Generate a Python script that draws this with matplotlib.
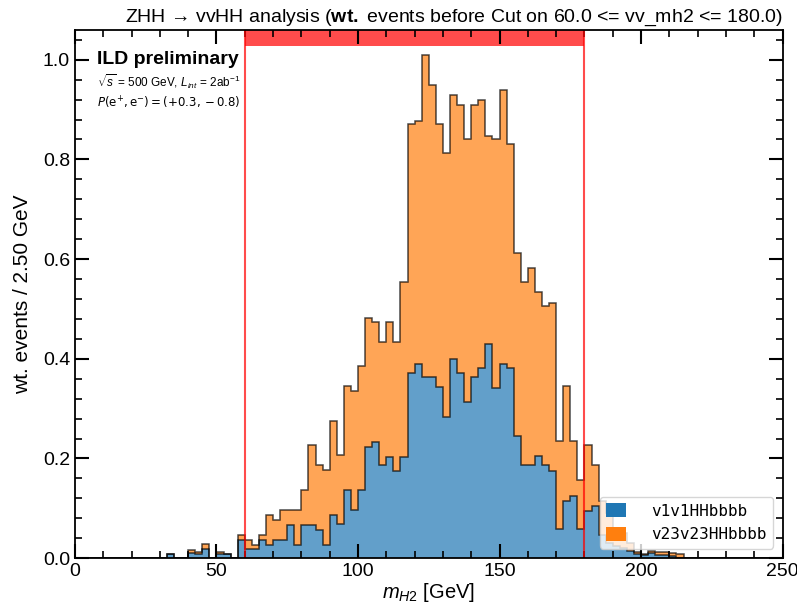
import numpy as np
import matplotlib
matplotlib.use('Agg')
import matplotlib.pyplot as plt
from matplotlib.patches import Patch
from matplotlib.ticker import MultipleLocator

plt.rcParams['font.family'] = ['Liberation Sans', 'DejaVu Sans']
plt.rcParams['mathtext.fontset'] = 'custom'
plt.rcParams['mathtext.rm'] = 'Liberation Sans'
plt.rcParams['mathtext.it'] = 'Liberation Sans:italic'
plt.rcParams['mathtext.bf'] = 'Liberation Sans:bold'

# histogram binning: 100 bins of 2.5 GeV between 0 and 250
bin_width = 2.5
x_min, x_max = 0.0, 250.0
cut_low, cut_high = 60.0, 180.0

labels = ['v1v1HHbbbb', 'v23v23HHbbbb']

# bin contents of the first (bottom) sample
v1v1 = [
    0, 0, 0, 0, 0, 0, 0, 0, 0, 0,
    0, 0, 0, 0.009, 0, 0, 0.011, 0.009, 0.018, 0,
    0.008, 0.008, 0, 0.037, 0.018, 0.018, 0.037, 0.027, 0.037, 0.037,
    0.067, 0.027, 0.067, 0.067, 0.057, 0.027, 0.087, 0.068, 0.136, 0.097,
    0.136, 0.223, 0.234, 0.186, 0.203, 0.175, 0.203, 0.372, 0.390, 0.363,
    0.363, 0.343, 0.283, 0.400, 0.371, 0.313, 0.363, 0.381, 0.430, 0.342,
    0.390, 0.381, 0.245, 0.186, 0.186, 0.204, 0.186, 0.174, 0.059, 0.115,
    0.124, 0.059, 0.095, 0.105, 0.047, 0.030, 0.025, 0.020, 0.015, 0.008,
    0.006, 0.010, 0.006, 0.006, 0.005, 0, 0, 0, 0, 0,
    0, 0, 0, 0, 0, 0, 0, 0, 0, 0,
]

# stacked total (top of the orange sample)
stack_total = [
    0, 0, 0, 0, 0, 0, 0, 0, 0, 0,
    0, 0, 0, 0.009, 0, 0, 0.017, 0.012, 0.028, 0,
    0.012, 0.008, 0, 0.047, 0.037, 0.027, 0.047, 0.087, 0.077, 0.097,
    0.097, 0.097, 0.137, 0.226, 0.187, 0.177, 0.276, 0.207, 0.345, 0.336,
    0.385, 0.482, 0.473, 0.433, 0.473, 0.433, 0.554, 0.870, 0.878, 1.009,
    0.950, 0.870, 0.812, 0.929, 0.910, 0.840, 0.910, 0.919, 0.847, 0.840,
    0.939, 0.830, 0.613, 0.554, 0.583, 0.534, 0.505, 0.512, 0.236, 0.345,
    0.235, 0.157, 0.226, 0.187, 0.115, 0.090, 0.060, 0.050, 0.030, 0.012,
    0.008, 0.014, 0.012, 0.012, 0.010, 0.008, 0, 0, 0, 0,
    0, 0, 0, 0, 0, 0, 0, 0, 0, 0,
]

v1v1 = np.array(v1v1)
v23v23 = np.array(stack_total) - v1v1

edges = np.arange(x_min, x_max + bin_width / 2, bin_width)
centers = 0.5 * (edges[:-1] + edges[1:])
colors = ['#1f77b4', '#ff7f0e']

fig = plt.figure(figsize=(7.97, 6.08), dpi=100)
ax = fig.add_axes([0.094, 0.082, 0.888, 0.869])

# filled stack and its outline
ax.hist([centers, centers], bins=edges, weights=[v1v1, v23v23], stacked=True,
        histtype='stepfilled', color=colors, alpha=0.7)
ax.hist([centers, centers], bins=edges, weights=[v1v1, v23v23], stacked=True,
        histtype='step', color=['black', 'black'], alpha=0.7, linewidth=1.1)

# cut window
ax.axvline(cut_low, color='red', alpha=0.7, linewidth=1.5)
ax.axvline(cut_high, color='red', alpha=0.7, linewidth=1.5)
ax.axvspan(cut_low, cut_high, ymin=0.97, ymax=1.0, color='red', alpha=0.7, linewidth=0)

ax.set_xlim(x_min, x_max)
ax.set_ylim(0, 1.06)
ax.xaxis.set_major_locator(MultipleLocator(50))
ax.xaxis.set_minor_locator(MultipleLocator(10))
ax.yaxis.set_major_locator(MultipleLocator(0.2))
ax.yaxis.set_minor_locator(MultipleLocator(0.04))
ax.tick_params(which='both', direction='in', top=True, right=True, labelsize=14)
ax.tick_params(which='major', length=10, width=1.5)
ax.tick_params(which='minor', length=5, width=1.2)
for sp in ax.spines.values():
    sp.set_linewidth(1.3)

ax.set_xlabel('$m_{H2}$ [GeV]', fontsize=14.5, labelpad=1)
ax.set_ylabel('wt. events / 2.50 GeV', fontsize=15, labelpad=8)
ax.set_title('ZHH → vvHH analysis ($\\mathbf{wt.}$ events before Cut on 60.0 <= vv_mh2 <= 180.0)',
             loc='right', fontsize=14, pad=6)

# experiment label
ax.text(0.031, 0.943, 'ILD preliminary', transform=ax.transAxes, fontsize=14,
        fontweight='bold', va='center', ha='left')
ax.text(0.031, 0.902, r'$\sqrt{s}$ = 500 GeV, $L_{int}$ = 2ab$^{-1}$', transform=ax.transAxes,
        fontsize=8.5, va='center', ha='left')
ax.text(0.031, 0.862, r'$P(\mathrm{e}^{+}, \mathrm{e}^{-}) = (+0.3, -0.8)$', transform=ax.transAxes,
        fontsize=8.5, va='center', ha='left', math_fontfamily='dejavusans')

handles = [Patch(facecolor=c) for c in colors]
ax.legend(handles, labels, loc='lower right', prop={'family': 'DejaVu Sans Mono', 'size': 11.5},
          framealpha=0.8, handlelength=1.2, handleheight=1.0, handletextpad=1.6,
          borderaxespad=0.6, labelspacing=0.5)

fig.savefig('out.png', dpi=100)
